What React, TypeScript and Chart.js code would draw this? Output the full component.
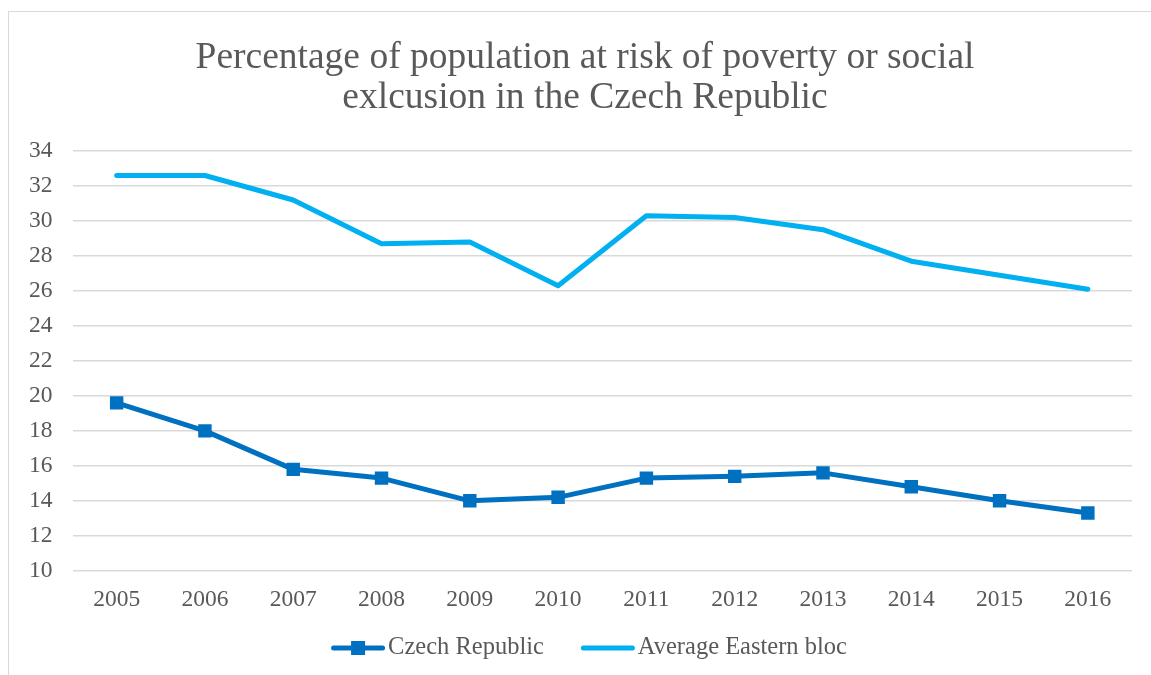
import React, { useEffect, useRef } from 'react';
import { Chart, registerables } from 'chart.js';

Chart.register(...registerables);

const years = ['2005', '2006', '2007', '2008', '2009', '2010', '2011', '2012', '2013', '2014', '2015', '2016'];
const czechRepublic = [19.6, 18.0, 15.8, 15.3, 14.0, 14.2, 15.3, 15.4, 15.6, 14.8, 14.0, 13.3];
const easternBloc = [32.6, 32.6, 31.2, 28.7, 28.8, 26.3, 30.3, 30.2, 29.5, 27.7, 26.9, 26.1];
const seriesNames = ['Czech Republic', 'Average Eastern bloc'];
const titleLines = ['Percentage of population at risk of poverty or social', 'exlcusion in the Czech Republic'];
const yMin = 10;
const yMax = 34;
const yStep = 2;

const CZ_COLOR = '#0070C0';
const EB_COLOR = '#00B0F0';
const TEXT_COLOR = '#595959';
const GRID_COLOR = '#d9d9d9';
const FONT = "'Liberation Serif', 'Times New Roman', serif";

// Centre the title across the whole canvas rather than the padded layout box
const titleCentering = {
  id: 'titleCentering',
  afterLayout(chart: any) {
    if (chart.titleBlock) {
      chart.titleBlock.left = 0;
      chart.titleBlock.right = chart.width;
    }
  },
};

// Custom legend drawn below the x axis (line marker, optional square, text)
const customLegend = {
  id: 'customLegend',
  afterDraw(chart: any, _args: any, opts: any) {
    const ctx = chart.ctx;
    const fontSize = opts.fontSize;
    ctx.save();
    ctx.font = `${fontSize}px ${FONT}`;
    const markerW = opts.markerWidth;
    const items = chart.data.datasets.map((ds: any) => ({
      text: ds.label,
      color: ds.borderColor,
      square: ds.pointRadius > 0,
      w: ctx.measureText(ds.label).width,
    }));
    let total = 0;
    items.forEach((it: any, i: number) => {
      total += markerW + opts.textGap + it.w + (i < items.length - 1 ? opts.itemGap : 0);
    });
    let x = chart.width / 2 + opts.centerShift - total / 2;
    const y = opts.y;
    items.forEach((it: any) => {
      ctx.strokeStyle = it.color;
      ctx.lineWidth = 5;
      ctx.lineCap = 'round';
      ctx.beginPath();
      ctx.moveTo(x + 2.5, y);
      ctx.lineTo(x + markerW - 2.5, y);
      ctx.stroke();
      if (it.square) {
        ctx.fillStyle = it.color;
        ctx.fillRect(x + markerW / 2 - 7, y - 7, 14, 14);
      }
      x += markerW + opts.textGap;
      ctx.fillStyle = TEXT_COLOR;
      ctx.textAlign = 'left';
      ctx.textBaseline = 'middle';
      ctx.fillText(it.text, x, y);
      x += it.w + opts.itemGap;
    });
    ctx.restore();
  },
};

export default function App() {
  const canvasRef = useRef<HTMLCanvasElement | null>(null);

  useEffect(() => {
    if (!canvasRef.current) return;
    const chart = new Chart(canvasRef.current, {
      type: 'line',
      data: {
        labels: years,
        datasets: [
          {
            label: seriesNames[0],
            data: czechRepublic,
            borderColor: CZ_COLOR,
            backgroundColor: CZ_COLOR,
            borderWidth: 5,
            borderCapStyle: 'round',
            borderJoinStyle: 'round',
            pointStyle: 'rect',
            pointRadius: 9.5,
            pointBorderWidth: 0,
            pointBackgroundColor: CZ_COLOR,
            tension: 0,
          },
          {
            label: seriesNames[1],
            data: easternBloc,
            borderColor: EB_COLOR,
            backgroundColor: EB_COLOR,
            borderWidth: 5,
            borderCapStyle: 'round',
            borderJoinStyle: 'round',
            pointRadius: 0,
            tension: 0,
          },
        ],
      },
      options: {
        responsive: false,
        animation: false,
        events: [],
        devicePixelRatio: 1,
        layout: { padding: { left: 0, right: 29, top: 0, bottom: 46 } },
        plugins: {
          title: {
            display: true,
            text: titleLines,
            color: TEXT_COLOR,
            font: { family: FONT, size: 37.5, weight: 'normal', lineHeight: '40px' },
            padding: { top: 26, bottom: 33 },
          },
          legend: { display: false },
          tooltip: { enabled: false },
          customLegend: {
            fontSize: 24.5,
            markerWidth: 54,
            textGap: 3,
            itemGap: 37,
            centerShift: 4,
            y: 636,
          },
        },
        scales: {
          x: {
            offset: true,
            grid: { display: false, drawTicks: false },
            border: { display: false },
            ticks: { color: TEXT_COLOR, font: { family: FONT, size: 23.5 }, padding: 15, maxRotation: 0 },
          },
          y: {
            min: yMin,
            max: yMax,
            grid: { color: GRID_COLOR, lineWidth: 1.5, drawTicks: false },
            border: { display: false },
            ticks: { stepSize: yStep, color: TEXT_COLOR, font: { family: FONT, size: 23.5 }, padding: 20 },
          },
        },
      },
      plugins: [titleCentering, customLegend],
    } as any);
    return () => chart.destroy();
  }, []);

  return (
    <div style={{ position: 'fixed', left: 0, top: 0, width: 1151, height: 675, overflow: 'hidden', background: '#fff' }}>
      <div
        style={{
          position: 'absolute',
          left: 8,
          top: 11,
          width: 1160,
          height: 700,
          border: '1px solid #d9d9d9',
          boxSizing: 'border-box',
        }}
      >
        <canvas ref={canvasRef} width={1152} height={663} style={{ display: 'block' }} />
      </div>
    </div>
  );
}
